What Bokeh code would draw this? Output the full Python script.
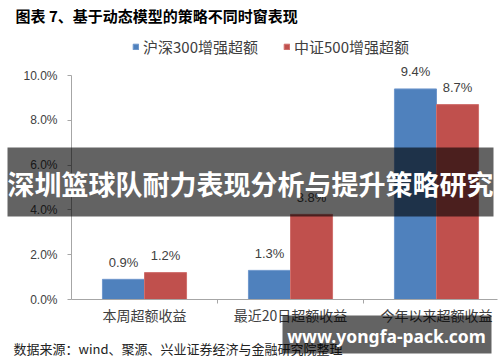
from bokeh.plotting import figure
from bokeh.models import (ColumnDataSource, Range1d, FixedTicker, Label, BoxAnnotation,
                          Legend, LegendItem)
from bokeh.transform import dodge
from bokeh.embed import file_html
from bokeh.resources import INLINE
from bokeh.core.properties import value

# ---- data ----
categories = ["本周超额收益", "最近20日超额收益", "今年以来超额收益"]
hs300 = [0.9, 1.3, 9.4]
zz500 = [1.2, 3.8, 8.7]
series_names = ["沪深300增强超额", "中证500增强超额"]
y_ticks = [0, 2, 4, 6, 8, 10]

title_text = "图表 7、基于动态模型的策略不同时窗表现"
source_text = "数据来源：wind、聚源、兴业证券经济与金融研究院整理"
banner_text = "深圳篮球队耐力表现分析与提升策略研究"
watermark_text = "www.yongfa-pack.com"

BLUE = "#4f81bd"
RED = "#c0504d"
TXT = "#404040"

W, H = 500, 362
# layout: the frame covers the whole canvas; axes are pinned inside it
X0, Y0 = 71, 299        # pixel position of the plot origin
CAT_PX = 146            # pixels per category
PCT_PX = 22.4           # pixels per 1 %
X_END_PX = 497          # right end of the x axis line

x_range = Range1d(-X0 / CAT_PX, (W - X0) / CAT_PX)
y_range = Range1d(-(H - Y0) / PCT_PX, Y0 / PCT_PX)

xs = [i + 0.5 for i in range(len(categories))]

src = ColumnDataSource(dict(
    x=xs, hs300=hs300, zz500=zz500,
    hs_lab=[f"{v:.1f}%" for v in hs300],
    zz_lab=[f"{v:.1f}%" for v in zz500],
))

p = figure(width=W, height=H, output_backend="svg", toolbar_location=None,
           x_range=x_range, y_range=y_range,
           min_border=0, min_border_left=0, min_border_right=0,
           min_border_top=0, min_border_bottom=0)
p.outline_line_color = None
p.xgrid.visible = False
p.ygrid.visible = False
p.background_fill_color = "white"
p.border_fill_color = "white"

bw = 0.288
r1 = p.vbar(x=dodge("x", -bw / 2, range=p.x_range), top="hs300", width=bw, source=src,
            fill_color=BLUE, line_color="#6f97cc", line_width=1)
r2 = p.vbar(x=dodge("x", bw / 2, range=p.x_range), top="zz500", width=bw, source=src,
            fill_color=RED, line_color="#cf6f6c", line_width=1)

for col, lab, off in (("hs300", "hs_lab", -bw / 2), ("zz500", "zz_lab", bw / 2)):
    p.text(x=dodge("x", off, range=p.x_range), y=col, text=lab, source=src,
           text_align="center", text_baseline="middle", y_offset=-17,
           text_font=value("Liberation Sans"), text_font_size="13px", text_color=TXT)

# y axis
ya = p.yaxis[0]
ya.fixed_location = 0
ya.ticker = FixedTicker(ticks=y_ticks)
ya.bounds = (0, 10)
ya.major_label_overrides = {t: f"{t:.1f}%" for t in y_ticks}
ya.major_label_text_font = "Liberation Sans"
ya.major_label_text_font_size = "12px"
ya.major_label_text_color = TXT
ya.axis_line_color = "#a6a6a6"
ya.major_tick_line_color = "#a6a6a6"
ya.major_tick_out = 4
ya.major_tick_in = 0
ya.minor_tick_out = 0
ya.minor_tick_in = 0
ya.major_label_standoff = 10

# x axis
xa = p.xaxis[0]
xa.fixed_location = 0
xa.ticker = FixedTicker(ticks=xs, minor_ticks=[1, 2])
xa.bounds = (0, (X_END_PX - X0) / CAT_PX)
xa.major_label_overrides = {x: c for x, c in zip(xs, categories)}
xa.major_label_text_font = "Noto Sans CJK SC"
xa.major_label_text_font_size = "14px"
xa.major_label_text_color = TXT
xa.axis_line_color = "#a6a6a6"
xa.major_tick_out = 0
xa.major_tick_in = 0
xa.minor_tick_out = 4
xa.minor_tick_in = 0
xa.minor_tick_line_color = "#a6a6a6"
xa.major_label_standoff = 1


def sx(px):
    return px


def sy(py):
    return H - py


# legend (location = bottom-left corner of the legend box, from the frame's bottom-left)
legend = Legend(items=[LegendItem(label=series_names[0], renderers=[r1]),
                       LegendItem(label=series_names[1], renderers=[r2])],
                orientation="horizontal", location=(sx(132), sy(47) - 10),
                glyph_width=7, glyph_height=7, label_standoff=4, spacing=25,
                padding=0, margin=0, border_line_color=None,
                background_fill_alpha=0, label_height=16,
                label_text_font="Noto Sans CJK SC", label_text_font_size="15px",
                label_text_color=TXT)
p.add_layout(legend, "center")

p.add_layout(Label(x=sx(15), y=sy(15), x_units="screen", y_units="screen",
                   text=title_text, text_font="Noto Sans CJK SC", text_font_style="bold",
                   text_font_size="15px", text_color="#000000", text_baseline="middle"))

p.add_layout(Label(x=sx(13), y=sy(348), x_units="screen", y_units="screen",
                   text=source_text, text_font="Noto Sans CJK SC",
                   text_font_size="13px", text_color="#222222", text_baseline="middle"))

p.add_layout(BoxAnnotation(left=sx(7), right=sx(493), top=sy(147), bottom=sy(216),
                           left_units="screen", right_units="screen",
                           top_units="screen", bottom_units="screen",
                           fill_color="black", fill_alpha=0.61, line_color=None))
p.add_layout(Label(x=sx(250), y=sy(183), x_units="screen", y_units="screen",
                   text=banner_text, text_font="Noto Sans CJK SC", text_font_style="bold",
                   text_font_size="27px", text_color="white", text_align="center",
                   text_baseline="middle"))

p.add_layout(BoxAnnotation(left=sx(282), right=sx(491), top=sy(315), bottom=sy(353),
                           left_units="screen", right_units="screen",
                           top_units="screen", bottom_units="screen",
                           fill_color="black", fill_alpha=0.61, line_color=None))
p.add_layout(Label(x=sx(386), y=sy(335), x_units="screen", y_units="screen",
                   text=watermark_text, text_font="Noto Sans", text_font_style="bold",
                   text_font_size="17.5px", text_color="white", text_align="center",
                   text_baseline="middle"))

open("out.html", "w").write(file_html(p, INLINE))
